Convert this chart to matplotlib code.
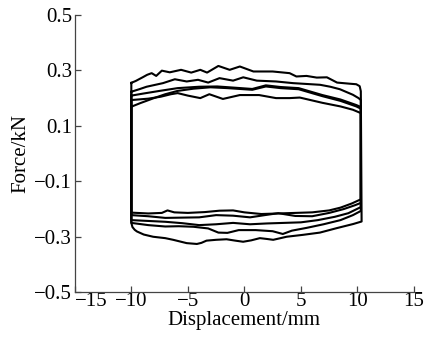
import numpy as np
import matplotlib
matplotlib.use("Agg")
import matplotlib.pyplot as plt

# =============================================================================
# Data (displacement in mm, force in kN)
# =============================================================================
# upper (loading) branches, left to right
up_a_x = [-10, -9.6, -9.0, -8.6, -8.2, -7.8, -7.3, -6.6, -5.6, -4.7, -3.9, -3.3, -2.3, -1.3, -0.4,
          0.8, 2.5, 4.0, 4.6, 5.5, 6.4, 7.3, 8.2, 9.3, 9.9, 10.2, 10.3]
up_a_y = [0.255, 0.262, 0.275, 0.284, 0.290, 0.280, 0.299, 0.293, 0.302, 0.292, 0.302, 0.292, 0.316, 0.302, 0.314,
          0.296, 0.296, 0.290, 0.278, 0.280, 0.274, 0.275, 0.256, 0.252, 0.250, 0.243, 0.225]

up_b_x = [-10, -9.3, -8.65, -7.2, -6.15, -5.1, -4.1, -3.2, -2.2, -1.0, -0.1, 1.1, 2.8, 4.3, 5.5,
          6.7, 7.6, 8.45, 9.6, 10.1, 10.3]
up_b_y = [0.223, 0.232, 0.241, 0.254, 0.268, 0.260, 0.266, 0.256, 0.272, 0.263, 0.275, 0.263, 0.260, 0.254, 0.251,
          0.248, 0.241, 0.232, 0.212, 0.200, 0.193]

up_c_x = [-10, -9.0, -7.5, -5.9, -4.0, -2.4, -1.0, 0.7, 1.9, 3.2, 4.8, 6.9, 8.5, 9.9, 10.3]
up_c_y = [0.209, 0.216, 0.226, 0.236, 0.241, 0.242, 0.238, 0.233, 0.246, 0.240, 0.236, 0.211, 0.195, 0.175, 0.168]

up_d_x = [-10, -8.5, -7.4, -6.5, -5.9, -5.0, -3.9, -3.1, -1.9, -0.4, 1.3, 2.8, 4.0, 4.9, 6.9, 8.5, 9.6, 10.3]
up_d_y = [0.193, 0.198, 0.205, 0.214, 0.218, 0.209, 0.200, 0.214, 0.197, 0.211, 0.211, 0.200, 0.200, 0.202,
          0.183, 0.170, 0.158, 0.146]

up_e_x = [-10, -9.2, -8.0, -7.0, -5.9, -4.5, -3.0, -1.5, 0.7, 1.9, 3.2, 4.8, 6.9, 8.5, 9.9, 10.3]
up_e_y = [0.169, 0.182, 0.200, 0.214, 0.226, 0.234, 0.239, 0.236, 0.230, 0.242, 0.236, 0.232, 0.207, 0.190,
          0.170, 0.162]

# lower (unloading) branches, left to right
lo_p_x = [-10, -8.5, -7.3, -6.8, -6.2, -5.0, -3.5, -2.2, -1.0, 0.0, 1.5, 3.0, 4.5, 6.0, 7.5, 8.5, 9.5, 10.3]
lo_p_y = [-0.213, -0.216, -0.214, -0.205, -0.212, -0.214, -0.211, -0.206, -0.205, -0.212, -0.218, -0.216,
          -0.214, -0.212, -0.205, -0.195, -0.180, -0.165]

lo_q_x = [-10, -8.5, -7.0, -5.5, -4.0, -2.5, -1.0, 0.5, 1.8, 3.0, 4.5, 6.0, 7.5, 8.8, 9.8, 10.3]
lo_q_y = [-0.222, -0.226, -0.232, -0.231, -0.230, -0.222, -0.224, -0.230, -0.222, -0.215, -0.225, -0.226,
          -0.214, -0.200, -0.186, -0.178]

lo_r_x = [-10, -8.5, -7.0, -5.5, -4.0, -2.5, -1.0, 0.5, 2.0, 3.5, 5.0, 6.5, 8.0, 9.2, 10.3]
lo_r_y = [-0.240, -0.243, -0.246, -0.251, -0.258, -0.255, -0.250, -0.255, -0.252, -0.250, -0.248, -0.240,
          -0.228, -0.215, -0.193]

lo_s_x = [-10, -8.5, -7.0, -5.8, -4.5, -3.2, -2.3, -1.5, -0.5, 1.0, 2.5, 3.4, 4.2, 5.5, 7.0, 8.5, 9.6, 10.3]
lo_s_y = [-0.250, -0.258, -0.263, -0.262, -0.264, -0.270, -0.285, -0.286, -0.276, -0.276, -0.280, -0.290,
          -0.278, -0.268, -0.255, -0.240, -0.222, -0.207]

lo_t_x = [-10, -9.9, -9.7, -9.5, -8.9, -8.07, -7.0, -6.3, -5.6, -5.1, -4.2, -3.8, -3.35, -2.5, -1.58, -0.8,
          -0.11, 0.6, 1.37, 2.0, 2.55, 3.2, 3.73, 5.2, 6.68, 8.16, 9.63, 10.37]
lo_t_y = [-0.250, -0.265, -0.275, -0.281, -0.292, -0.300, -0.305, -0.311, -0.318, -0.323, -0.326, -0.322,
          -0.314, -0.311, -0.309, -0.314, -0.318, -0.313, -0.305, -0.308, -0.311, -0.305, -0.300, -0.293,
          -0.285, -0.269, -0.254, -0.245]

# each loop = one upper branch + one lower branch
loops = [
    (up_a_x, up_a_y, lo_t_x, lo_t_y),
    (up_b_x, up_b_y, lo_s_x, lo_s_y),
    (up_c_x, up_c_y, lo_r_x, lo_r_y),
    (up_d_x, up_d_y, lo_q_x, lo_q_y),
    (up_e_x, up_e_y, lo_p_x, lo_p_y),
]

x_ticks = [-15, -10, -5, 0, 5, 10, 15]
y_ticks = [-0.5, -0.3, -0.1, 0.1, 0.3, 0.5]

# =============================================================================
# Plot
# =============================================================================
plt.rcParams['font.family'] = ['Liberation Serif', 'DejaVu Serif']

fig = plt.figure(figsize=(4.25, 3.39), dpi=100)
ax = fig.add_axes([0.176, 0.138, 0.798, 0.818])

for ux, uy, lx, ly in loops:
    # along the upper branch, down the right end, back along the lower branch, then close
    xs = np.concatenate([ux, lx[::-1], ux[:1]])
    ys = np.concatenate([uy, ly[::-1], uy[:1]])
    ax.plot(xs, ys, color='black', linewidth=1.5, solid_joinstyle='round')

ax.set_xlim(-15, 15)
ax.set_ylim(-0.5, 0.5)
ax.set_xticks(x_ticks)
ax.set_yticks(y_ticks)
ax.set_xticklabels([f"{v}".replace('-', '\u2212') for v in x_ticks])
ax.set_yticklabels([f"{v:.1f}".replace('-', '\u2212') for v in y_ticks])

for side in ['top', 'right']:
    ax.spines[side].set_visible(False)
for side in ['left', 'bottom']:
    ax.spines[side].set_color('#444444')
    ax.spines[side].set_linewidth(0.9)

ax.tick_params(direction='in', length=4, width=0.9, color='#444444', labelsize=15, pad=2)
ax.tick_params(axis='x', pad=0)
# first x label sits just right of its tick, clear of the -0.5 label
ax.get_xticklabels()[0].set_horizontalalignment('left')

ax.set_xlabel('Displacement/mm', fontsize=15, labelpad=0)
ax.set_ylabel('Force/kN', fontsize=15, labelpad=3)

fig.savefig('out.png', dpi=100)
